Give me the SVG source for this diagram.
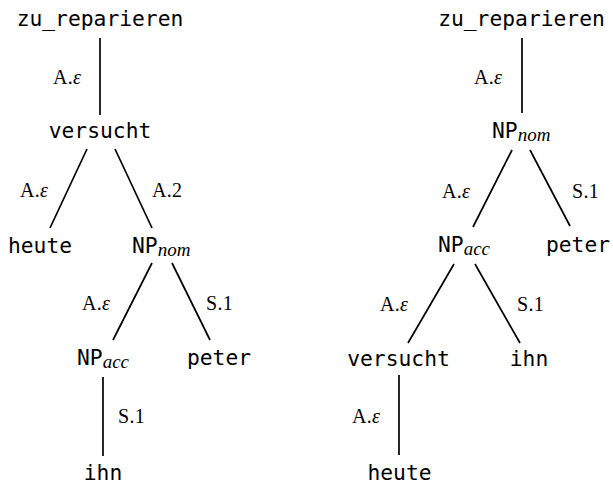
<svg xmlns="http://www.w3.org/2000/svg" width="613" height="486" viewBox="0 0 613 486">
<style>
.n{font-family:"DejaVu Sans Mono","Liberation Mono",monospace;font-size:21.3px;fill:#000}
.sub{font-family:"Liberation Serif",serif;font-style:italic;font-size:19px}
.l{font-family:"Liberation Serif",serif;font-size:20px;letter-spacing:0.3px;fill:#000}
.e{font-style:italic}
.c line{stroke:#000;stroke-width:1.7}
</style>
<rect width="613" height="486" fill="#fff"/>
<g class="c" id="connectors">
<line x1="100" y1="38" x2="100" y2="115"/>
<line x1="87" y1="149" x2="50" y2="228"/>
<line x1="115" y1="149" x2="152" y2="228"/>
<line x1="152" y1="263" x2="113" y2="340"/>
<line x1="172" y1="263" x2="210" y2="340"/>
<line x1="103" y1="377" x2="103" y2="456"/>
<line x1="522" y1="38" x2="522" y2="113"/>
<line x1="512" y1="150" x2="473" y2="227"/>
<line x1="530" y1="150" x2="570" y2="226"/>
<line x1="454" y1="264" x2="408" y2="343"/>
<line x1="475" y1="264" x2="520" y2="343"/>
<line x1="399" y1="375" x2="399" y2="455"/>
</g>
<g id="labels">
<text class="l" x="53" y="84">A.<tspan class="e">ε</tspan></text>
<text class="l" x="20" y="197">A.<tspan class="e">ε</tspan></text>
<text class="l" x="152" y="197">A.2</text>
<text class="l" x="82" y="310">A.<tspan class="e">ε</tspan></text>
<text class="l" x="206" y="310">S.1</text>
<text class="l" x="118" y="423">S.1</text>
<text class="l" x="474" y="84">A.<tspan class="e">ε</tspan></text>
<text class="l" x="442" y="198">A.<tspan class="e">ε</tspan></text>
<text class="l" x="572" y="198">S.1</text>
<text class="l" x="380" y="311">A.<tspan class="e">ε</tspan></text>
<text class="l" x="517" y="311">S.1</text>
<text class="l" x="352" y="423">A.<tspan class="e">ε</tspan></text>
</g>
<g id="L_zu"><text class="n" x="100" y="26" text-anchor="middle">zu_reparieren</text></g>
<g id="L_versucht"><text class="n" x="100" y="138" text-anchor="middle">versucht</text></g>
<g id="L_heute"><text class="n" x="40" y="253" text-anchor="middle">heute</text></g>
<g id="L_npnom"><text class="n" x="132" y="253">NP<tspan class="sub" dy="3">nom</tspan></text></g>
<g id="L_npacc"><text class="n" x="77" y="365">NP<tspan class="sub" dy="3">acc</tspan></text></g>
<g id="L_peter"><text class="n" x="219" y="365" text-anchor="middle">peter</text></g>
<g id="L_ihn"><text class="n" x="103" y="480" text-anchor="middle">ihn</text></g>
<g id="R_zu"><text class="n" x="521.5" y="26" text-anchor="middle">zu_reparieren</text></g>
<g id="R_npnom"><text class="n" x="492" y="138">NP<tspan class="sub" dy="3">nom</tspan></text></g>
<g id="R_npacc"><text class="n" x="438" y="252">NP<tspan class="sub" dy="3">acc</tspan></text></g>
<g id="R_peter"><text class="n" x="578" y="252" text-anchor="middle">peter</text></g>
<g id="R_versucht"><text class="n" x="398.5" y="366" text-anchor="middle">versucht</text></g>
<g id="R_ihn"><text class="n" x="529" y="366" text-anchor="middle">ihn</text></g>
<g id="R_heute"><text class="n" x="399.5" y="480" text-anchor="middle">heute</text></g>
</svg>
